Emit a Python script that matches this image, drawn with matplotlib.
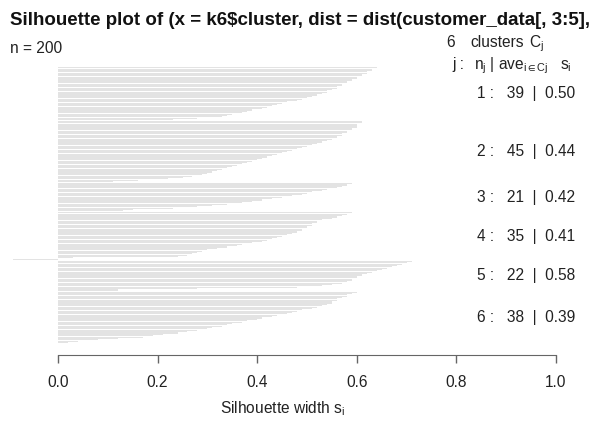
import matplotlib
matplotlib.use("Agg")
from matplotlib import pyplot as plt
import numpy as np

# silhouette widths per cluster, sorted as drawn (top to bottom)
sil_c1 = [0.64, 0.63, 0.63, 0.62, 0.62, 0.61, 0.61, 0.60, 0.60, 0.59, 0.58, 0.58, 0.57,
          0.57, 0.56, 0.56, 0.55, 0.54, 0.54, 0.53, 0.52, 0.51, 0.50, 0.49, 0.48, 0.46,
          0.45, 0.44, 0.43, 0.42, 0.41, 0.39, 0.38, 0.37, 0.35, 0.34, 0.33, 0.28, 0.23]
sil_c2 = [0.61, 0.61, 0.60, 0.60, 0.60, 0.59, 0.59, 0.58, 0.58, 0.57, 0.57, 0.56, 0.56,
          0.55, 0.54, 0.53, 0.52, 0.51, 0.50, 0.49, 0.48, 0.47, 0.46, 0.45, 0.44, 0.43,
          0.42, 0.41, 0.40, 0.39, 0.38, 0.37, 0.36, 0.35, 0.34, 0.33, 0.32, 0.31, 0.30,
          0.29, 0.27, 0.25, 0.22, 0.16, 0.11]
sil_c3 = [0.59, 0.58, 0.57, 0.56, 0.54, 0.53, 0.51, 0.50, 0.49, 0.47, 0.45, 0.43, 0.41,
          0.39, 0.37, 0.34, 0.31, 0.28, 0.23, 0.15, 0.13]
sil_c4 = [0.59, 0.58, 0.57, 0.56, 0.55, 0.53, 0.52, 0.52, 0.51, 0.51, 0.50, 0.50, 0.49,
          0.49, 0.48, 0.47, 0.46, 0.45, 0.44, 0.43, 0.42, 0.41, 0.39, 0.37, 0.36, 0.34,
          0.32, 0.30, 0.29, 0.28, 0.27, 0.26, 0.24, 0.03, -0.09]
sil_c5 = [0.71, 0.70, 0.69, 0.68, 0.67, 0.66, 0.65, 0.64, 0.63, 0.62, 0.61, 0.60, 0.60,
          0.59, 0.59, 0.58, 0.57, 0.55, 0.53, 0.48, 0.28, 0.12]
sil_c6 = [0.60, 0.59, 0.58, 0.58, 0.57, 0.56, 0.56, 0.55, 0.55, 0.54, 0.53, 0.52, 0.51,
          0.49, 0.48, 0.47, 0.46, 0.44, 0.43, 0.41, 0.40, 0.38, 0.37, 0.35, 0.34, 0.33,
          0.31, 0.30, 0.28, 0.26, 0.24, 0.21, 0.19, 0.17, 0.12, 0.08, 0.04, 0.02]

clusters = [sil_c1, sil_c2, sil_c3, sil_c4, sil_c5, sil_c6]
cluster_sizes = [39, 45, 21, 35, 22, 38]
cluster_means = [0.50, 0.44, 0.42, 0.41, 0.58, 0.39]
title = "Silhouette plot of (x = k6$cluster, dist = dist(customer_data[, 3:5],"
xticks = [0.0, 0.2, 0.4, 0.6, 0.8, 1.0]

plt.rcParams["font.family"] = ["Liberation Sans", "DejaVu Sans"]
plt.rcParams["mathtext.fontset"] = "custom"
plt.rcParams["mathtext.rm"] = "Liberation Sans"
plt.rcParams["mathtext.it"] = "Liberation Sans"
plt.rcParams["mathtext.default"] = "regular"

W, H = 616, 425
fs = 11.2
txt = "#222222"
fig = plt.figure(figsize=(W / 100, H / 100), dpi=100)


def px(x, y):
    return x / W, 1 - y / H


# bar positions: width 1, gap 0.5 between clusters
gap = 0.5
pos, vals, centers = [], [], []
start = 0.0
for c in clusters:
    p = start + np.arange(len(c)) + 0.5
    pos.extend(p)
    vals.extend(c)
    centers.append(start + len(c) / 2)
    start += len(c) + gap
total = start - gap

x0_px, unit_px = 58, 498
top_px, bot_px = 67, 343.2
ax = fig.add_axes([0, 1 - bot_px / H, 1, (bot_px - top_px) / H])
ax.barh(pos, vals, height=0.8, color="#e3e3e3", linewidth=0)
ax.set_xlim(-x0_px / unit_px, (W - x0_px) / unit_px)
ax.set_ylim(total, 0)

for s in ["top", "right", "left"]:
    ax.spines[s].set_visible(False)
ax.spines["bottom"].set_position(("outward", 8.5))
ax.spines["bottom"].set_bounds(0, 1)
ax.spines["bottom"].set_color("#666666")
ax.set_yticks([])
ax.set_xticks(xticks)
ax.set_xticklabels([f"{t:.1f}" for t in xticks])
ax.tick_params(axis="x", direction="out", length=6, width=1, color="#666666",
               labelsize=fs, pad=8.5, labelcolor=txt)
ax.patch.set_visible(False)

# cluster labels on the right
for j, (c, n, m) in enumerate(zip(centers, cluster_sizes, cluster_means)):
    ax.text(1.038, c, f"{j + 1} :   {n}  |  {m:.2f}", ha="right", va="center",
            fontsize=fs, color=txt)

fig.text(*px(10, 25), title, fontsize=13.5, fontweight="bold", ha="left", va="baseline",
         color="#111111")
fig.text(*px(10, 53), "n = 200", fontsize=fs, ha="left", va="baseline", color=txt)

# header of the cluster table
fig.text(*px(446, 47), "6", fontsize=fs, ha="left", va="baseline", color=txt)
fig.text(*px(470, 47), "clusters", fontsize=fs, ha="left", va="baseline", color=txt)
fig.text(*px(529, 47), r"$C_j$", fontsize=fs, ha="left", va="baseline", color=txt)
fig.text(*px(452, 69), "j :", fontsize=fs, ha="left", va="baseline", color=txt)
fig.text(*px(474, 69), r"$n_j$", fontsize=fs, ha="left", va="baseline", color=txt)
fig.text(*px(490, 69), "|", fontsize=fs, ha="left", va="baseline", color=txt)
fig.text(*px(498, 69), r"$ave_{i\in Cj}$", fontsize=fs, ha="left", va="baseline", color=txt)
fig.text(*px(560, 69), r"$s_i$", fontsize=fs, ha="left", va="baseline", color=txt)

fig.text(*px(220, 409), r"Silhouette width $s_i$", fontsize=fs, ha="left",
         va="center", color=txt)

fig.savefig("out.png", dpi=100)
